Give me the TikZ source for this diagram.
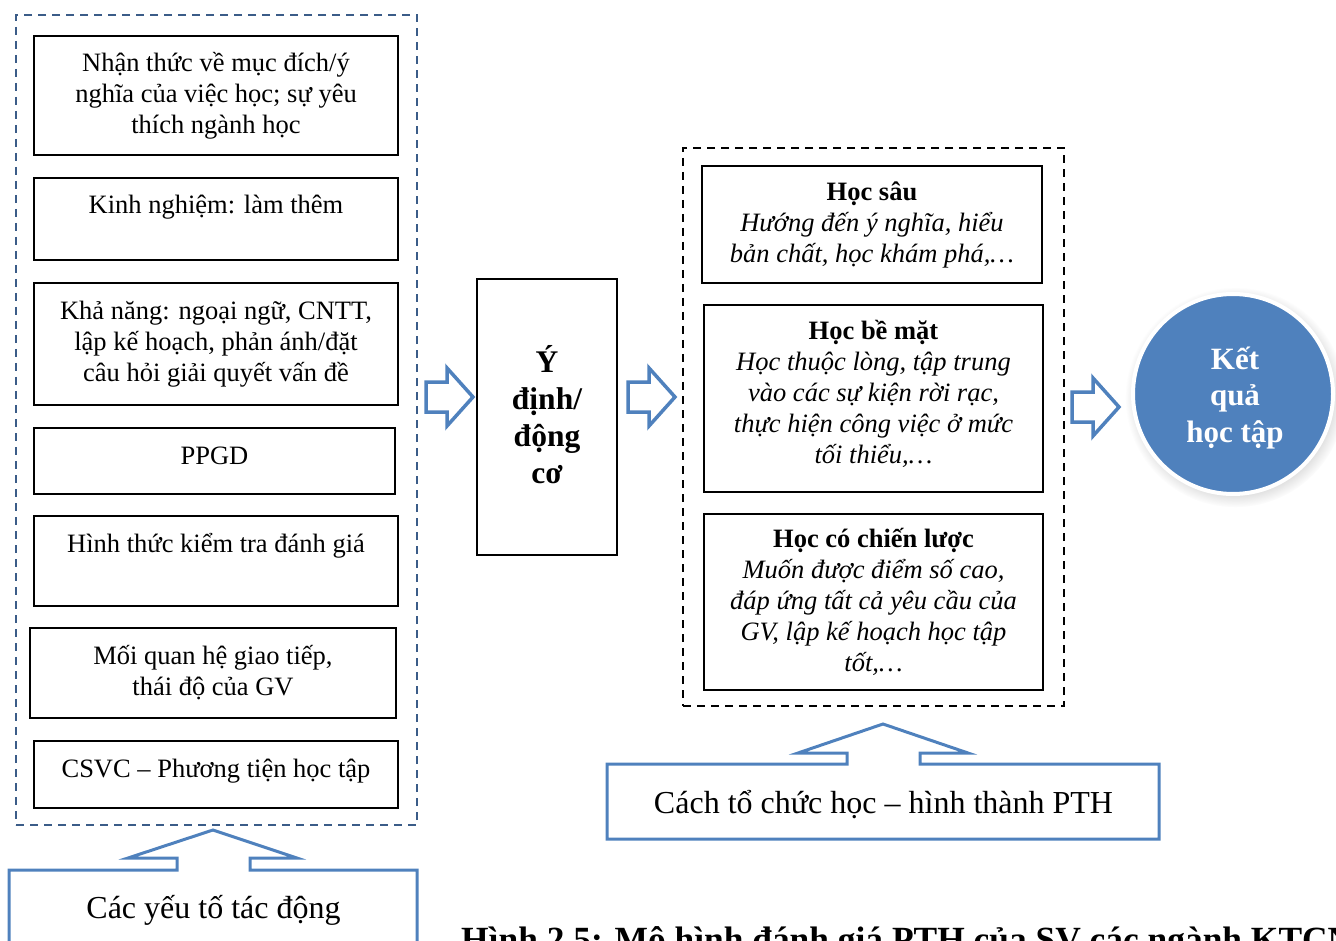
\documentclass[tikz,border=0pt]{standalone}
\usepackage{fontspec}
\setmainfont{Liberation Serif}
\usetikzlibrary{calc,shadows}
\definecolor{arrowblue}{RGB}{79,129,189}
\definecolor{dashblue}{RGB}{59,92,136}
\tikzset{
  fbox/.style={draw=black, line width=2pt, inner sep=0pt},
  grpbox/.style={draw=dashblue, line width=2pt, dash pattern=on 8pt off 6pt, inner sep=0pt},
  grpboxk/.style={draw=black, line width=2pt, dash pattern=on 8pt off 6pt, inner sep=0pt},
  txt/.style={font={\fontsize{26.5}{31}\selectfont}, align=center, inner sep=0pt, anchor=base},
  bigtxt/.style={font={\fontsize{31.5}{37}\selectfont\bfseries}, align=center, inner sep=0pt, anchor=base},
  calltxt/.style={font={\fontsize{32}{38}\selectfont}, inner sep=0pt, anchor=base},
  barrow/.style={draw=arrowblue, line width=3.5pt, fill=white, line join=miter},
  callout/.style={draw=arrowblue, line width=3pt, line join=miter}
}
% multi-line nodes sit on the baseline of their last line
\def\blockarrow(#1,#2){\draw[barrow] (#1,#2) -- ++(-26,-29) -- ++(0,14) -- ++(-21,0) -- ++(0,30) -- ++(21,0) -- ++(0,14) -- cycle;}

\begin{document}
\begin{tikzpicture}[x=1pt,y=-1pt]
  \useasboundingbox (0,0) rectangle (1336,941);

  %%%%% left group %%%%%
  \node[grpbox, minimum width=401pt, minimum height=810pt] (grpL) at (216.5,420) {};

  \node[fbox, minimum width=364pt, minimum height=119pt] (b1) at (216,95.5) {};
  \node[fbox, minimum width=364pt, minimum height=82pt] (b2) at (216,219) {};
  \node[fbox, minimum width=364pt, minimum height=122pt] (b3) at (216,344) {};
  \node[fbox, minimum width=361pt, minimum height=66pt] (b4) at (214.5,461) {};
  \node[fbox, minimum width=364pt, minimum height=90pt] (b5) at (216,561) {};
  \node[fbox, minimum width=366pt, minimum height=90pt] (b6) at (213,673) {};
  \node[fbox, minimum width=364pt, minimum height=67pt] (b7) at (216,774.5) {};

  \node[txt] (t1) at ($(b1.north)+(0,99)$) {Nhận thức về mục đích/ý\\nghĩa của việc học; sự yêu\\thích ngành học};
  \node[txt] (t2) at ($(b2.north)+(0,37)$) {Kinh nghiệm: làm thêm};
  \node[txt] (t3) at ($(b3.north)+(0,99)$) {Khả năng: ngoại ngữ, CNTT,\\lập kế hoạch, phản ánh/đặt\\câu hỏi giải quyết vấn đề};
  \node[txt] (t4) at ($(b4.north)+(0,37)$) {PPGD};
  \node[txt] (t5) at ($(b5.north)+(0,37)$) {Hình thức kiểm tra đánh giá};
  \node[txt] (t6) at ($(b6.north)+(0,68)$) {Mối quan hệ giao tiếp,\\thái độ của GV};
  \node[txt] (t7) at ($(b7.north)+(0,37)$) {CSVC – Phương tiện học tập};

  %%%%% middle %%%%%
  \node[fbox, minimum width=140pt, minimum height=276pt] (mid) at (547,417) {};
  \node[bigtxt] (tmid) at (547,483) {Ý\\định/\\động\\cơ};

  %%%%% right group %%%%%
  \node[grpboxk, minimum width=381pt, minimum height=558pt] (grpR) at (873.5,427) {};

  \node[fbox, minimum width=340pt, minimum height=117pt] (r1) at (872,224.5) {};
  \node[fbox, minimum width=339pt, minimum height=187pt] (r2) at (873.5,398.5) {};
  \node[fbox, minimum width=339pt, minimum height=176pt] (r3) at (873.5,602) {};

  \node[txt] (tr1) at ($(r1.north)+(0,98)$) {\textbf{Học sâu}\\\textit{Hướng đến ý nghĩa, hiểu}\\\textit{bản chất, học khám phá,…}};
  \node[txt] (tr2) at ($(r2.north)+(0,159)$) {\textbf{Học bề mặt}\\\textit{Học thuộc lòng, tập trung}\\\textit{vào các sự kiện rời rạc,}\\\textit{thực hiện công việc ở mức}\\\textit{tối thiểu,…}};
  \node[txt] (tr3) at ($(r3.north)+(0,158)$) {\textbf{Học có chiến lược}\\\textit{Muốn được điểm số cao,}\\\textit{đáp ứng tất cả yêu cầu của}\\\textit{GV, lập kế hoạch học tập}\\\textit{tốt,…}};

  %%%%% result %%%%%
  \node[circle, fill=arrowblue, draw=white, line width=4pt, minimum size=200pt,
        circular drop shadow={shadow xshift=2pt, shadow yshift=-3pt, fill=black!30, opacity=0.5}] (kq) at (1233,394) {};
  \node[bigtxt, font={\fontsize{31}{36.5}\selectfont\bfseries}, text=white] (tkq) at (1235,442) {Kết\\quả\\học tập};

  %%%%% block arrows %%%%%
  \blockarrow(473,397)
  \blockarrow(675,397)
  \blockarrow(1119,407)

  %%%%% callouts %%%%%
  \draw[callout] (9,960) -- (9,870) -- (177,870) -- (177,858) -- (128,858) -- (213,830)
    -- (297,858) -- (250,858) -- (250,870) -- (417,870) -- (417,960);
  \node[calltxt] (cL) at (213.5,918) {Các yếu tố tác động};

  \draw[callout] (607,839) -- (607,764) -- (847,764) -- (847,753) -- (798,753) -- (883,724)
    -- (968,753) -- (920,753) -- (920,764) -- (1159,764) -- (1159,839) -- cycle;
  \node[calltxt] (cR) at (883.5,813) {Cách tổ chức học – hình thành PTH};

  %%%%% caption %%%%%
  \node[font={\fontsize{35.4}{42}\selectfont\bfseries}, anchor=base west, inner sep=0pt] (cap) at (461,951)
    {Hình 2.5: Mô hình đánh giá PTH của SV các ngành KTCN};
\end{tikzpicture}
\end{document}
